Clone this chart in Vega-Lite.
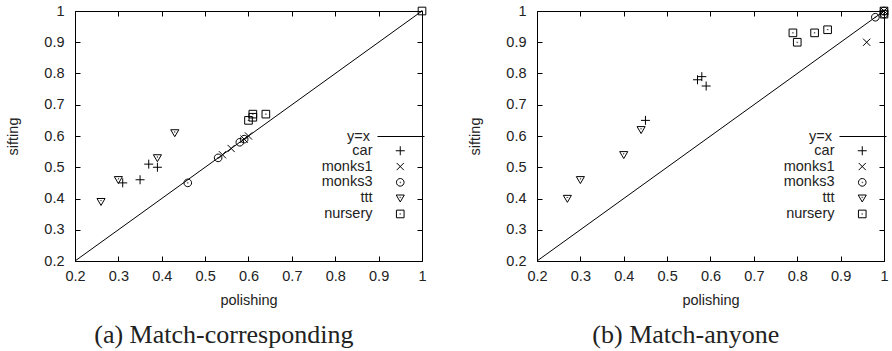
{
  "$schema": "https://vega.github.io/schema/vega-lite/v6.json",
  "background": "white",
  "padding": {"left": 5, "top": 2, "right": 2, "bottom": 0},
  "spacing": 38,
  "datasets": {
    "diag": [{"x": 0.2, "y": 0.2, "s": "y=x"}, {"x": 1.0, "y": 1.0, "s": "y=x"}],
    "a": [
      {"ds": "car", "x": 0.31, "y": 0.45},
      {"ds": "car", "x": 0.35, "y": 0.46},
      {"ds": "car", "x": 0.37, "y": 0.51},
      {"ds": "car", "x": 0.39, "y": 0.50},
      {"ds": "monks1", "x": 0.54, "y": 0.54},
      {"ds": "monks1", "x": 0.56, "y": 0.56},
      {"ds": "monks1", "x": 0.59, "y": 0.59},
      {"ds": "monks1", "x": 0.60, "y": 0.60},
      {"ds": "monks3", "x": 0.46, "y": 0.45},
      {"ds": "monks3", "x": 0.53, "y": 0.53},
      {"ds": "monks3", "x": 0.58, "y": 0.58},
      {"ds": "monks3", "x": 0.59, "y": 0.59},
      {"ds": "ttt", "x": 0.26, "y": 0.39},
      {"ds": "ttt", "x": 0.30, "y": 0.46},
      {"ds": "ttt", "x": 0.39, "y": 0.53},
      {"ds": "ttt", "x": 0.43, "y": 0.61},
      {"ds": "nursery", "x": 0.60, "y": 0.65},
      {"ds": "nursery", "x": 0.61, "y": 0.66},
      {"ds": "nursery", "x": 0.61, "y": 0.67},
      {"ds": "nursery", "x": 0.64, "y": 0.67},
      {"ds": "nursery", "x": 1.0, "y": 1.0}
    ],
    "b": [
      {"ds": "car", "x": 0.45, "y": 0.65},
      {"ds": "car", "x": 0.57, "y": 0.78},
      {"ds": "car", "x": 0.58, "y": 0.79},
      {"ds": "car", "x": 0.59, "y": 0.76},
      {"ds": "monks1", "x": 0.96, "y": 0.90},
      {"ds": "monks1", "x": 1.0, "y": 1.0},
      {"ds": "monks1", "x": 1.0, "y": 1.0},
      {"ds": "monks3", "x": 0.98, "y": 0.98},
      {"ds": "monks3", "x": 1.0, "y": 0.99},
      {"ds": "monks3", "x": 1.0, "y": 1.0},
      {"ds": "ttt", "x": 0.27, "y": 0.40},
      {"ds": "ttt", "x": 0.30, "y": 0.46},
      {"ds": "ttt", "x": 0.40, "y": 0.54},
      {"ds": "ttt", "x": 0.44, "y": 0.62},
      {"ds": "nursery", "x": 0.79, "y": 0.93},
      {"ds": "nursery", "x": 0.80, "y": 0.90},
      {"ds": "nursery", "x": 0.84, "y": 0.93},
      {"ds": "nursery", "x": 0.87, "y": 0.94},
      {"ds": "nursery", "x": 1.0, "y": 1.0},
      {"ds": "nursery", "x": 1.0, "y": 0.99}
    ]
  },
  "config": {
    "font": "Liberation Sans",
    "view": {"stroke": "black", "strokeWidth": 1},
    "axis": {
      "grid": false,
      "domain": false,
      "tickColor": "black",
      "tickWidth": 1,
      "tickSize": -5,
      "format": ".1~f",
      "labelFont": "Liberation Sans",
      "labelFontSize": 14.5,
      "labelColor": "#222",
      "titleFont": "Liberation Sans",
      "titleFontSize": 14.5,
      "titleFontWeight": "normal",
      "titleColor": "#222",
      "values": [0.2, 0.3, 0.4, 0.5, 0.6, 0.7, 0.8, 0.9, 1]
    },
    "axisX": {"labelPadding": 13, "titlePadding": 11, "labelFlush": false},
    "axisY": {"labelPadding": 16, "titlePadding": 23, "labelFlush": false},
    "title": {"font": "Liberation Serif", "fontSize": 26, "fontWeight": "normal", "color": "#222", "orient": "bottom", "offset": 15, "frame": "bounds", "anchor": "middle", "dx": 7},
    "legend": {
      "orient": "none",
      "labelFont": "Liberation Sans",
      "labelFontSize": 14.5,
      "labelColor": "#222",
      "labelAlign": "right",
      "padding": 0,
      "rowPadding": 0.8,
      "title": null
    }
  },
  "resolve": {"scale": {"shape": "independent", "color": "independent"}, "legend": {"shape": "independent", "color": "independent"}},
  "hconcat": [
    {
      "width": 347,
      "height": 250,
      "title": "(a) Match-corresponding",
      "resolve": {"axis": {"x": "independent", "y": "independent"}},
      "layer": [
        {
          "data": {"name": "diag"},
          "mark": {"type": "line", "color": "black", "strokeWidth": 1},
          "encoding": {
            "x": {"field": "x", "type": "quantitative", "scale": {"domain": [0.2, 1]}, "axis": {"orient": "bottom", "title": "polishing"}},
            "y": {"field": "y", "type": "quantitative", "scale": {"domain": [0.2, 1]}, "axis": {"orient": "left", "title": "sifting"}},
            "color": {"field": "s", "type": "nominal", "scale": {"range": ["black"]},
              "legend": {"symbolType": "stroke", "symbolSize": 2209, "symbolStrokeWidth": 1, "labelOffset": -55, "legendX": 302, "legendY": 101.5}}
          }
        },
        {
          "data": {"name": "a"},
          "mark": {"type": "point", "filled": false, "stroke": "black", "strokeWidth": 1, "size": 81, "opacity": 1, "clip": false},
          "encoding": {
            "x": {"field": "x", "type": "quantitative", "axis": {"orient": "top", "labels": false, "title": null}},
            "y": {"field": "y", "type": "quantitative", "axis": {"orient": "right", "labels": false, "title": null}},
            "shape": {"field": "ds", "type": "nominal",
              "scale": {"domain": ["car", "monks1", "monks3", "ttt", "nursery"],
                "range": ["M-1,0H1M0,-1V1", "M-0.8,-0.8L0.8,0.8M-0.8,0.8L0.8,-0.8", "M0.85,0A0.85,0.85 0 1,1 -0.85,0A0.85,0.85 0 1,1 0.85,0ZM0.08,0A0.08,0.08 0 1,1 -0.08,0A0.08,0.08 0 1,1 0.08,0Z", "M-0.9,-0.7H0.9L0,0.85ZM0.08,-0.2A0.08,0.08 0 1,1 -0.08,-0.2A0.08,0.08 0 1,1 0.08,-0.2Z", "M-0.85,-0.85H0.85V0.85H-0.85ZM0.08,0A0.08,0.08 0 1,1 -0.08,0A0.08,0.08 0 1,1 0.08,0Z"]},
              "legend": {"symbolStrokeColor": "black", "symbolFillColor": "transparent", "symbolSize": 81, "symbolStrokeWidth": 1, "labelOffset": -35, "legendX": 318, "legendY": 132.5}}
          }
        }
      ]
    },
    {
      "width": 347,
      "height": 250,
      "title": "(b) Match-anyone",
      "resolve": {"axis": {"x": "independent", "y": "independent"}},
      "layer": [
        {
          "data": {"name": "diag"},
          "mark": {"type": "line", "color": "black", "strokeWidth": 1},
          "encoding": {
            "x": {"field": "x", "type": "quantitative", "scale": {"domain": [0.2, 1]}, "axis": {"orient": "bottom", "title": "polishing"}},
            "y": {"field": "y", "type": "quantitative", "scale": {"domain": [0.2, 1]}, "axis": {"orient": "left", "title": "sifting"}},
            "color": {"field": "s", "type": "nominal", "scale": {"range": ["black"]},
              "legend": {"symbolType": "stroke", "symbolSize": 2209, "symbolStrokeWidth": 1, "labelOffset": -55, "legendX": 302, "legendY": 101.5}}
          }
        },
        {
          "data": {"name": "b"},
          "mark": {"type": "point", "filled": false, "stroke": "black", "strokeWidth": 1, "size": 81, "opacity": 1, "clip": false},
          "encoding": {
            "x": {"field": "x", "type": "quantitative", "axis": {"orient": "top", "labels": false, "title": null}},
            "y": {"field": "y", "type": "quantitative", "axis": {"orient": "right", "labels": false, "title": null}},
            "shape": {"field": "ds", "type": "nominal",
              "scale": {"domain": ["car", "monks1", "monks3", "ttt", "nursery"],
                "range": ["M-1,0H1M0,-1V1", "M-0.8,-0.8L0.8,0.8M-0.8,0.8L0.8,-0.8", "M0.85,0A0.85,0.85 0 1,1 -0.85,0A0.85,0.85 0 1,1 0.85,0ZM0.08,0A0.08,0.08 0 1,1 -0.08,0A0.08,0.08 0 1,1 0.08,0Z", "M-0.9,-0.7H0.9L0,0.85ZM0.08,-0.2A0.08,0.08 0 1,1 -0.08,-0.2A0.08,0.08 0 1,1 0.08,-0.2Z", "M-0.85,-0.85H0.85V0.85H-0.85ZM0.08,0A0.08,0.08 0 1,1 -0.08,0A0.08,0.08 0 1,1 0.08,0Z"]},
              "legend": {"symbolStrokeColor": "black", "symbolFillColor": "transparent", "symbolSize": 81, "symbolStrokeWidth": 1, "labelOffset": -35, "legendX": 318, "legendY": 132.5}}
          }
        }
      ]
    }
  ]
}
